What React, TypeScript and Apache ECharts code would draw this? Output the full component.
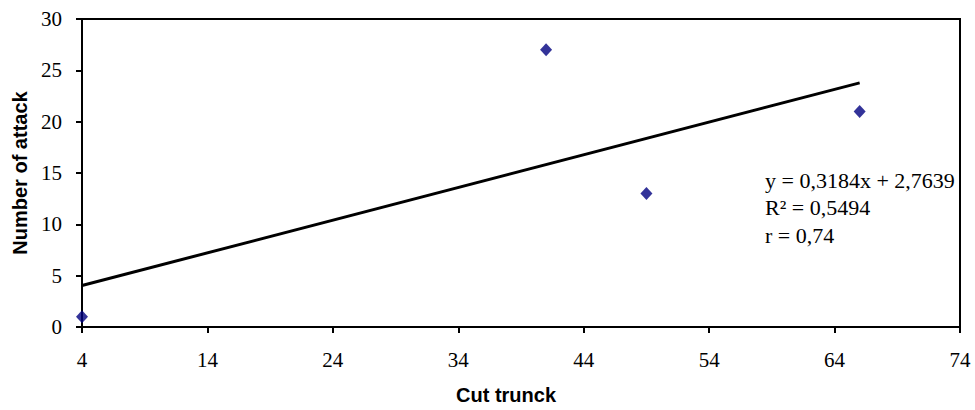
import React, { useEffect, useRef } from "react";
import * as echarts from "echarts";

const xTickLabels = [4, 14, 24, 34, 44, 54, 64, 74];
const cutTrunk = [4, 41, 49, 66];
const attacks = [1, 27, 13, 21];
const trendX = [4, 66];
const trendY = [4.04, 23.78];
const equationLines = ["y = 0,3184x + 2,7639", "R² = 0,5494", "r = 0,74"];

export default function App() {
  const ref = useRef<HTMLDivElement>(null);
  useEffect(() => {
    if (!ref.current) return;
    const chart = echarts.init(ref.current, undefined, { renderer: "svg" });
    const serif = "'Liberation Serif', 'Times New Roman', serif";
    const sans = "'Liberation Sans', Arial, sans-serif";
    chart.setOption({
      animation: false,
      backgroundColor: "#ffffff",
      grid: {
        left: 82,
        top: 19,
        right: 15,
        bottom: 80,
        show: true,
        borderColor: "#000",
        borderWidth: 2,
        backgroundColor: "transparent",
      },
      xAxis: {
        type: "value",
        min: 4,
        max: 74,
        name: "Cut trunck",
        nameLocation: "middle",
        nameGap: 58,
        nameTextStyle: {
          fontFamily: sans,
          fontWeight: "bold",
          fontSize: 20,
          color: "#000",
          padding: [0, 30, 0, 0],
        },
        axisLine: { show: true, lineStyle: { color: "#000", width: 2 } },
        axisTick: { show: true, inside: false, length: 6, lineStyle: { color: "#000", width: 2 }, customValues: xTickLabels },
        axisLabel: { fontFamily: serif, fontSize: 21, color: "#000", margin: 22, customValues: xTickLabels },
        splitLine: { show: false },
      },
      yAxis: {
        type: "value",
        min: 0,
        max: 30,
        interval: 5,
        name: "Number of attack",
        nameLocation: "middle",
        nameGap: 49,
        nameRotate: 90,
        nameTextStyle: { fontFamily: sans, fontWeight: "bold", fontSize: 20, color: "#000" },
        axisLine: { show: true, lineStyle: { color: "#000", width: 2 } },
        axisTick: { show: true, inside: false, length: 6, lineStyle: { color: "#000", width: 2 } },
        axisLabel: { fontFamily: serif, fontSize: 21, color: "#000", margin: 20 },
        splitLine: { show: false },
      },
      series: [
        {
          type: "line",
          data: trendX.map((x, i) => [x, trendY[i]]),
          showSymbol: false,
          symbol: "none",
          lineStyle: { color: "#000", width: 3 },
          z: 2,
        },
        {
          type: "scatter",
          data: cutTrunk.map((x, i) => [x, attacks[i]]),
          symbol: "diamond",
          symbolSize: [12, 13],
          itemStyle: { color: "#000080" },
          z: 3,
        },
      ],
      graphic: equationLines.map((t, i) => ({
        type: "text",
        left: 765,
        top: 169 + i * 27.5,
        style: { text: t, fontFamily: serif, fontSize: 22, fill: "#000" },
      })),
    });
    return () => chart.dispose();
  }, []);
  return (
    <div
      ref={ref}
      style={{ position: "fixed", left: 0, top: 0, width: 975, height: 410, background: "#fff" }}
    />
  );
}
